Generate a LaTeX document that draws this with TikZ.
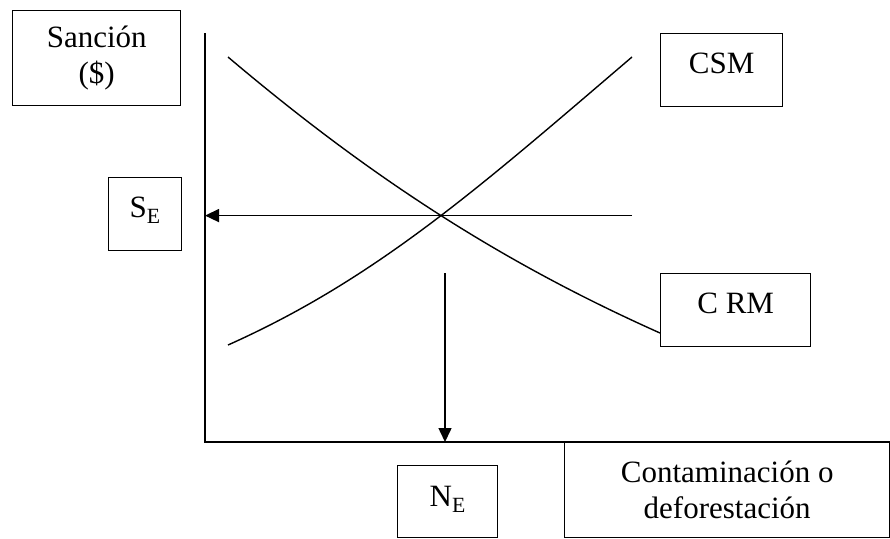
\documentclass[tikz,border=0pt]{standalone}
\usepackage{fontspec}
\setmainfont{Liberation Serif}
\usetikzlibrary{arrows.meta,intersections}
\begin{document}
\begin{tikzpicture}[x=1pt,y=-1pt,
    box/.style={draw, rectangle, line width=1.4pt, anchor=north west, inner sep=0pt, font=\fontsize{31}{36}\selectfont},
    curve/.style={line width=1.4pt},
    axis/.style={line width=1.7pt},
    arr/.style={line width=1.5pt, -{Triangle[length=14pt,width=13pt]}}]
    \useasboundingbox (0,0) rectangle (890,538);

    % text boxes
    \node (sancion) [box, minimum width=168pt, minimum height=95pt, align=center] at (12,10) {Sanción\\(\$)};
    \node (se) [box, minimum width=73pt, minimum height=73pt, text depth=14pt] at (108,177) {S\textsubscript{E}};
    \node (csm) [box, minimum width=122pt, minimum height=73pt, text depth=14pt] at (660,33) {CSM};
    \node (crm) [box, minimum width=150pt, minimum height=73pt, text depth=14pt] at (660,273) {C RM};
    \node (ne) [box, minimum width=100pt, minimum height=72pt, text depth=10pt] at (397,465) {N\textsubscript{E}};
    \node (contam) [box, minimum width=325pt, minimum height=96pt, align=center] at (564,441) {Contaminación o\\deforestación};

    % axes
    \coordinate (origin) at (205,442);
    \draw[axis] (205,33) -- (origin) -- (890,442);

    % curves
    \draw[curve, name path=crmcurve] (228,57) .. controls (378,184) and (510,266) .. (crm.west |- 0,333);
    \draw[curve, name path=csmcurve] (228,345) .. controls (378,278) and (482,185) .. (632,57);
    \path[name intersections={of=crmcurve and csmcurve, by=eq}];

    % equilibrium arrows
    \coordinate (hstart) at (632,0);
    \coordinate (vstart) at (445,273);
    \draw[arr] (hstart |- eq) -- (origin |- eq);
    \draw[arr] (vstart) -- (vstart |- origin);
\end{tikzpicture}
\end{document}
